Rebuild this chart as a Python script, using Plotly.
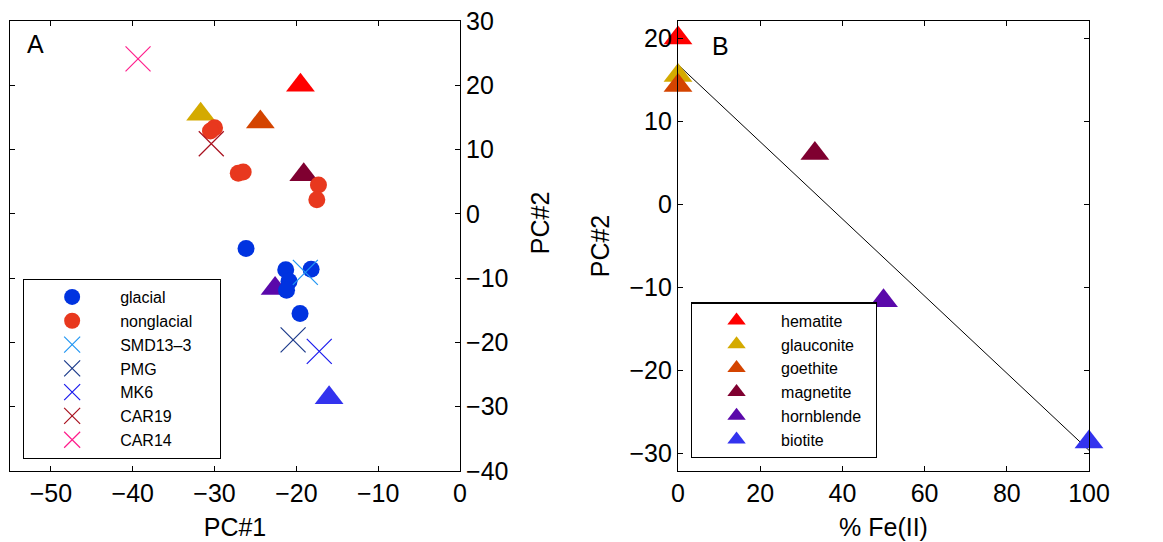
import numpy as np
import plotly.graph_objects as go

# ---------------- data ----------------
glacial_pc1 = [-26.15, -21.3, -18.2, -20.9, -21.2, -19.55]
glacial_pc2 = [-5.4, -8.7, -8.6, -10.5, -11.9, -15.5]

nonglacial_pc1 = [-30.0, -30.5, -27.1, -26.5, -17.3, -17.5]
nonglacial_pc2 = [13.4, 12.9, 6.3, 6.5, 4.5, 2.2]

sample_names = ["SMD13\u20133", "PMG", "MK6", "CAR19", "CAR14"]
sample_pc1 = [-18.9, -20.4, -17.2, -30.4, -39.35]
sample_pc2 = [-9.1, -19.6, -21.4, 10.9, 24.1]
sample_colors = ["#2196f3", "#1c3a8a", "#1a1aee", "#a8101e", "#ff1e8c"]

mineral_names = ["hematite", "glauconite", "goethite", "magnetite", "hornblende", "biotite"]
mineral_pc1 = [-19.5, -31.7, -24.4, -19.1, -22.6, -16.0]
mineral_pc2 = [20.0, 15.5, 14.3, 6.1, -11.6, -28.6]
mineral_fe2 = [0, 0, 0, 33.3, 50, 100]
mineral_colors = ["#ff0000", "#d4aa00", "#d44400", "#7f0030", "#5a08aa", "#3333ee"]

# ---------------- figure ----------------
FONT = "Liberation Sans, Arial, Helvetica, sans-serif"
TRI = 25
PAD = "\u00a0"  # non-breaking space used to widen the legend boxes
fig = go.Figure()

# Panel A: minerals (not in legend A)
for n, x, y, c in zip(mineral_names, mineral_pc1, mineral_pc2, mineral_colors):
    fig.add_trace(go.Scatter(x=[x], y=[y], mode="markers", name=n, showlegend=False,
                             marker=dict(symbol="triangle-up", size=TRI, color=c),
                             xaxis="x", yaxis="y"))

fig.add_trace(go.Scatter(x=glacial_pc1, y=glacial_pc2, mode="markers", name="glacial",
                         marker=dict(symbol="circle", size=17, color="#0033e0"),
                         xaxis="x", yaxis="y", legend="legend"))
fig.add_trace(go.Scatter(x=nonglacial_pc1, y=nonglacial_pc2, mode="markers",
                         name="nonglacial" + PAD * 5,
                         marker=dict(symbol="circle", size=17, color="#e8381e"),
                         xaxis="x", yaxis="y", legend="legend"))
for n, x, y, c in zip(sample_names, sample_pc1, sample_pc2, sample_colors):
    fig.add_trace(go.Scatter(x=[x], y=[y], mode="markers", name=n,
                             marker=dict(symbol="x-thin", size=25, color=c,
                                         line=dict(color=c, width=1.2)),
                             xaxis="x", yaxis="y", legend="legend"))

# Panel B: linear fit line + minerals
slope, intercept = np.polyfit(mineral_fe2, mineral_pc2, 1)
fx = np.array([0.0, 100.0])
fig.add_trace(go.Scatter(x=fx, y=slope * fx + intercept, mode="lines", showlegend=False,
                         line=dict(color="black", width=1), xaxis="x2", yaxis="y2"))
for n, x, y, c in zip(mineral_names, mineral_fe2, mineral_pc2, mineral_colors):
    label = n + PAD * 2 if n == "hornblende" else n
    fig.add_trace(go.Scatter(x=[x], y=[y], mode="markers", name=label,
                             marker=dict(symbol="triangle-up", size=TRI, color=c),
                             xaxis="x2", yaxis="y2", legend="legend2", cliponaxis=False))

axis_common = dict(showgrid=False, zeroline=False, showline=True, linecolor="black",
                   linewidth=1.2, mirror="ticks", ticks="inside", ticklen=5,
                   tickcolor="black", tickwidth=1, automargin=False,
                   tickfont=dict(family=FONT, size=25, color="black"))

legend_common = dict(xanchor="left", yanchor="bottom", bgcolor="white",
                     bordercolor="black", borderwidth=1.2, tracegroupgap=0,
                     font=dict(family=FONT, size=16, color="black"))

fig.update_layout(
    width=1163, height=542,
    margin=dict(l=10, r=74, t=21, b=71),
    paper_bgcolor="white", plot_bgcolor="white",
    font=dict(family=FONT, color="black"),
    xaxis=dict(axis_common, domain=[0, 0.41705], range=[-55, 0], tickvals=[-50, -40, -30, -20, -10, 0],
               title=dict(text="PC#1", font=dict(family=FONT, size=25), standoff=12)),
    yaxis=dict(axis_common, domain=[0, 1], range=[-40, 30], side="right", anchor="x",
               tickvals=[-40, -30, -20, -10, 0, 10, 20, 30]),
    xaxis2=dict(axis_common, domain=[0.6191, 1], range=[0, 100], anchor="y2",
                tickvals=[0, 20, 40, 60, 80, 100],
                title=dict(text="% Fe(II)", font=dict(family=FONT, size=25), standoff=12)),
    yaxis2=dict(axis_common, domain=[0, 1], range=[-32.1, 22.05], anchor="x2",
                tickvals=[-30, -20, -10, 0, 10, 20],
                title=dict(text="PC#2", font=dict(family=FONT, size=25), standoff=12)),
    legend=dict(legend_common, x=0.012, y=0.027, itemwidth=86),
    legend2=dict(legend_common, x=0.631, y=0.028, itemwidth=79),
    annotations=[
        dict(text="PC#2", xref="x domain", yref="y domain", x=1.178, y=0.551,
             xanchor="center", yanchor="middle",
             showarrow=False, textangle=-90, font=dict(family=FONT, size=25, color="black")),
        dict(text="A", xref="x domain", yref="y domain", x=0.033, y=0.985, xanchor="left",
             yanchor="top", showarrow=False, font=dict(family=FONT, size=25, color="black")),
        dict(text="B", xref="x2 domain", yref="y2 domain", x=0.078, y=0.98, xanchor="left",
             yanchor="top", showarrow=False, font=dict(family=FONT, size=25, color="black")),
    ],
)

fig.write_html("out.html", config={"displayModeBar": False},
               post_script="document.body.style.margin='0px';")
